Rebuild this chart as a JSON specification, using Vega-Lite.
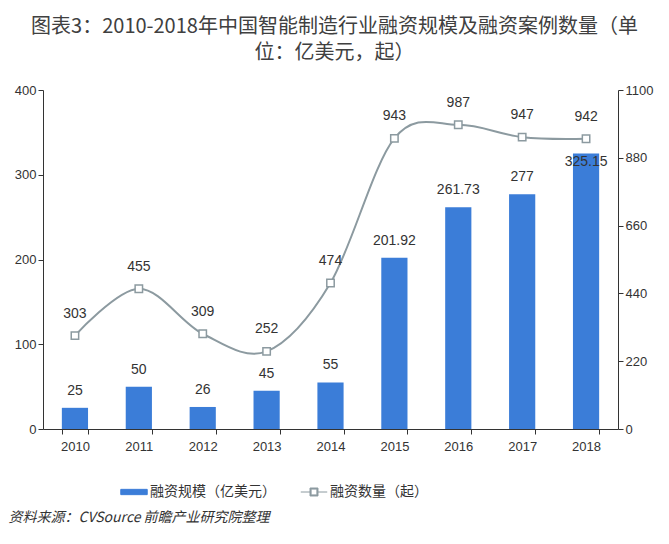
{
  "$schema": "https://vega.github.io/schema/vega-lite/v6.json",
  "width": 575,
  "height": 339,
  "autosize": {"type": "none"},
  "padding": {"left": 43, "top": 90, "right": 51, "bottom": 115},
  "background": "white",
  "title": {
    "text": ["图表3：2010-2018年中国智能制造行业融资规模及融资案例数量（单", "位：亿美元，起）"],
    "font": "Noto Sans CJK SC",
    "fontSize": 20,
    "fontWeight": "normal",
    "color": "#404040",
    "lineHeight": 26,
    "anchor": "middle",
    "dx": 4,
    "offset": 21
  },
  "config": {
    "view": {"stroke": null},
    "axis": {
      "labelFont": "Liberation Sans",
      "labelFontSize": 13,
      "labelColor": "#333333",
      "domainColor": "#333333",
      "tickColor": "#333333",
      "grid": false
    },
    "text": {"font": "Liberation Sans", "fontSize": 14, "color": "#333333"}
  },
  "data": {
    "values": [
      {"year": "2010", "amount": 25, "count": 303},
      {"year": "2011", "amount": 50, "count": 455},
      {"year": "2012", "amount": 26, "count": 309},
      {"year": "2013", "amount": 45, "count": 252},
      {"year": "2014", "amount": 55, "count": 474},
      {"year": "2015", "amount": 201.92, "count": 943},
      {"year": "2016", "amount": 261.73, "count": 987},
      {"year": "2017", "amount": 277, "count": 947},
      {"year": "2018", "amount": 325.15, "count": 942}
    ]
  },
  "encoding": {
    "x": {
      "field": "year",
      "type": "ordinal",
      "scale": {"paddingInner": 0.59, "paddingOuter": 0.295},
      "axis": {
        "labelAngle": 0,
        "tickBand": "extent",
        "tickSize": 5,
        "labelPadding": 6,
        "title": "资料来源：CVSource 前瞻产业研究院整理",
        "titleFont": "Noto Sans CJK SC",
        "titleFontStyle": "italic",
        "titleFontWeight": "normal",
        "titleFontSize": 14,
        "titleColor": "#333333",
        "titleAnchor": "start",
        "titleAlign": "left",
        "titleBaseline": "middle",
        "titleX": -35,
        "titleY": 88
      }
    }
  },
  "layer": [
    {
      "layer": [
        {
          "mark": {"type": "bar"},
          "encoding": {
            "y": {
              "field": "amount",
              "type": "quantitative",
              "scale": {"domain": [0, 400]},
              "axis": {"values": [0, 100, 200, 300, 400], "title": null, "tickSize": 5}
            },
            "color": {
              "datum": "融资规模（亿美元）",
              "scale": {
                "domain": ["融资规模（亿美元）", "融资数量（起）"],
                "range": ["#3b7dd8", "#8c9aa0"]
              },
              "legend": {
                "title": null,
                "orient": "none",
                "direction": "horizontal",
                "legendX": 77,
                "legendY": 388,
                "labelFont": "Noto Sans CJK SC",
                "labelFontSize": 14,
                "labelColor": "#333333",
                "symbolSize": 700,
                "symbolStrokeWidth": 1,
                "columnPadding": 22,
                "labelOffset": 2,
                "encode": {
                  "symbols": {
                    "update": {
                      "shape": {"signal": "datum.value === '融资规模（亿美元）' ? 'M-1,-0.2H1V0.2H-1Z' : 'M-1,0H-0.3M0.3,0H1M-0.3,-0.3H0.3V0.3H-0.3ZM-0.22,-0.22V0.22H0.22V-0.22Z'"},
                      "strokeWidth": {"value": 1}
                    }
                  }
                }
              }
            }
          }
        },
        {
          "transform": [{"filter": "datum.year !== '2018'"}],
          "mark": {"type": "text", "baseline": "middle", "dy": -17},
          "encoding": {
            "y": {"field": "amount", "type": "quantitative"},
            "text": {"field": "amount", "type": "quantitative"}
          }
        },
        {
          "transform": [{"filter": "datum.year === '2018'"}],
          "mark": {"type": "text", "baseline": "middle", "dy": 9},
          "encoding": {
            "y": {"field": "amount", "type": "quantitative"},
            "text": {"field": "amount", "type": "quantitative"}
          }
        }
      ]
    },
    {
      "layer": [
        {
          "mark": {"type": "line", "interpolate": "cardinal", "strokeWidth": 2},
          "encoding": {
            "y": {
              "field": "count",
              "type": "quantitative",
              "scale": {"domain": [0, 1100]},
              "axis": {"orient": "right", "values": [0, 220, 440, 660, 880, 1100], "format": "d", "title": null, "tickSize": 5}
            },
            "color": {"datum": "融资数量（起）"}
          }
        },
        {
          "mark": {"type": "point", "shape": "square", "filled": true, "fill": "white", "stroke": "#8c9aa0", "strokeWidth": 1.5, "size": 55, "opacity": 1},
          "encoding": {
            "y": {"field": "count", "type": "quantitative"}
          }
        },
        {
          "mark": {"type": "text", "baseline": "middle", "dy": -22},
          "encoding": {
            "y": {"field": "count", "type": "quantitative"},
            "text": {"field": "count", "type": "quantitative"}
          }
        }
      ]
    }
  ],
  "resolve": {"scale": {"y": "independent"}}
}
